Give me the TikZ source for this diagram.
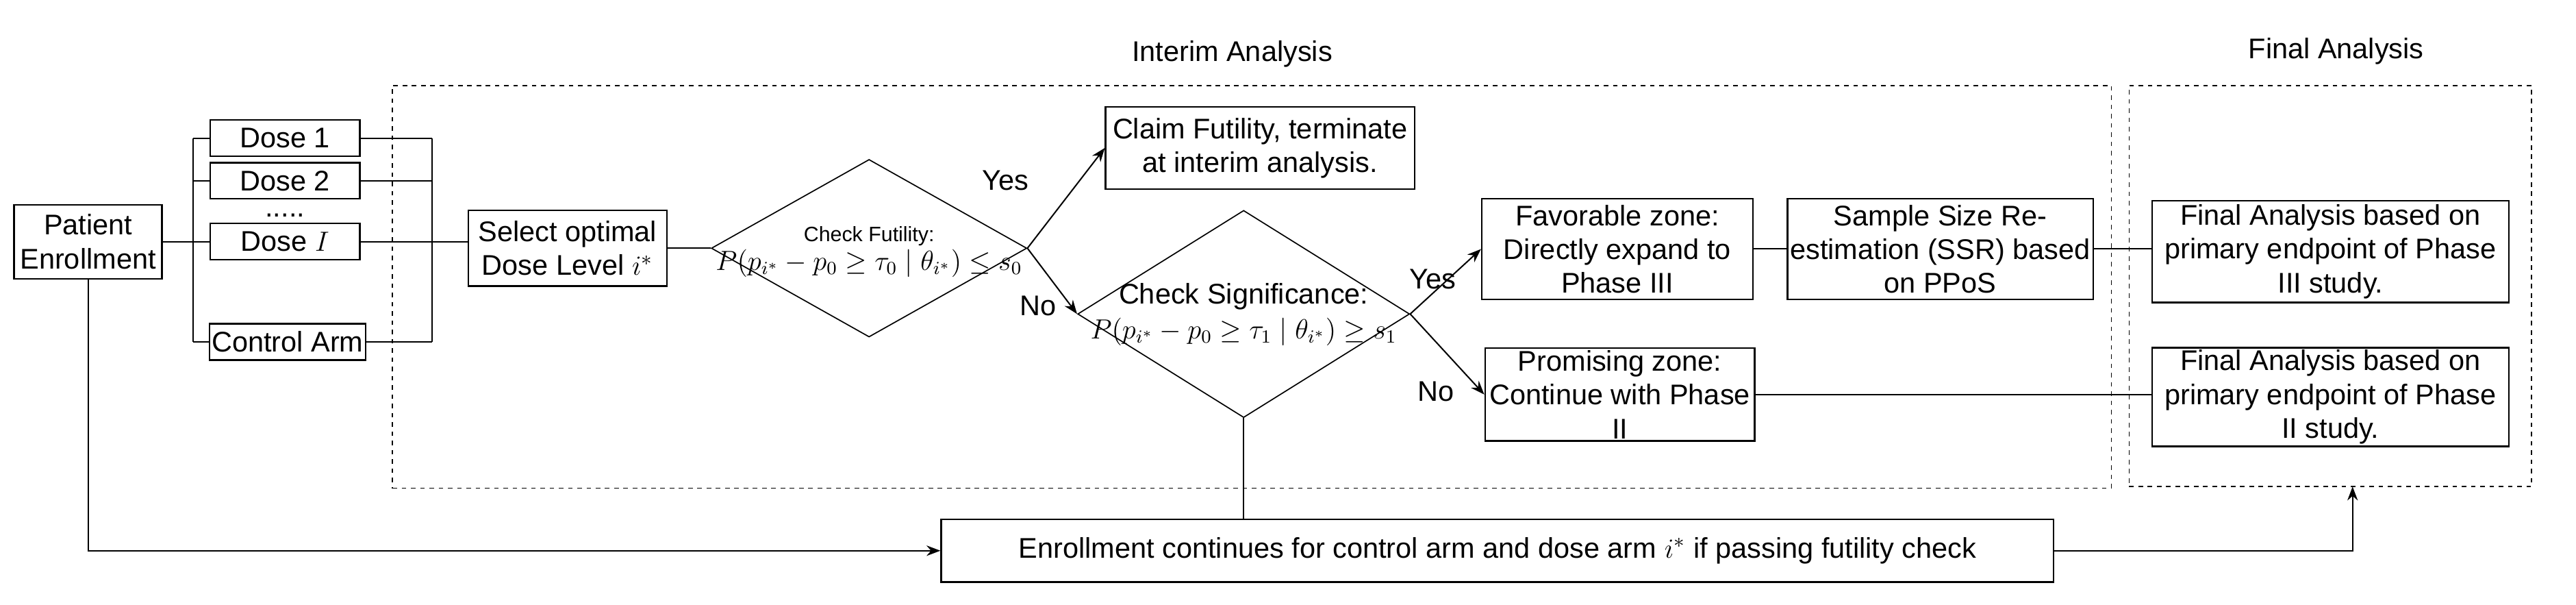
\documentclass[tikz,border=0pt]{standalone}
\usepackage{fontspec}
\setmainfont{Liberation Sans}
\usepackage{tikz}
\usetikzlibrary{arrows.meta,positioning,shapes.geometric}

\tikzset{
  every node/.style={font=\fontsize{12.3}{14.6}\selectfont},
  box/.style={draw, line width=0.7pt, align=center, inner sep=1pt},
  decision/.style={draw, diamond, line width=0.5pt, inner sep=0pt},
  zone/.style={draw, line width=0.5pt, dash pattern=on 2pt off 2pt, inner sep=0pt},
  rule/.style={anchor=base, inner sep=0pt, font=\fontsize{11.6}{14}\selectfont},
  link/.style={line width=0.6pt},
  flow/.style={line width=0.6pt, -{Stealth[length=6pt,width=4.5pt]}},
}

\begin{document}
\begin{tikzpicture}[x=0.025cm, y=-0.025cm]
\useasboundingbox (0,0) rectangle (1568,368);

% stage frames
\node[zone, minimum width=26.15cm, minimum height=6.125cm] (interim) at (762,174.5) {};
\node[zone, minimum width=6.125cm, minimum height=6.1cm] (final) at (1418.5,174) {};
\node (interimtitle) at (750,33) {Interim Analysis};
\node (finaltitle) at (1422,31) {Final Analysis};

% enrollment and arms
\node[box, minimum width=2.25cm, minimum height=1.125cm] (patient) at (53.6,147) {Patient\\Enrollment};
\node[box, minimum width=2.275cm, minimum height=0.55cm] (dose1) at (173.5,84) {Dose 1};
\node[box, minimum width=2.275cm, minimum height=0.55cm] (dose2) at (173.5,110) {Dose 2};
\node[inner sep=0pt, anchor=base] (dots) at (173.5,132) {.....};
\node[box, minimum width=2.275cm, minimum height=0.55cm] (doseI) at (173.5,147) {Dose $I$};
\node[box, minimum width=2.35cm, minimum height=0.55cm] (control) at (175,208) {Control Arm};
\coordinate (split) at (117.6,147);
\coordinate (merge) at (263,147);

\node[box, minimum width=3.025cm, minimum height=1.15cm] (select) at (345.5,151) {Select optimal\\Dose Level $i^*$};

% futility check
\node[decision, minimum width=4.8cm, minimum height=2.7cm] (fut) at (529,151) {};
\node[anchor=base, inner sep=0pt, font=\fontsize{9}{11}\selectfont] (futhead) at (529,147) {Check Futility:};
\node[rule] (futrule) at (529,164.5) {$P(p_{i^*}-p_0\geq\tau_0\mid\theta_{i^*})\leq s_0$};
\node[box, minimum width=4.7cm, minimum height=1.25cm] (claim) at (767,90) {Claim Futility, terminate\\at interim analysis.};

% significance check
\node[decision, minimum width=5.05cm, minimum height=3.15cm] (sig) at (757,191) {};
\node[anchor=base, inner sep=0pt] (sighead) at (757,185) {Check Significance:};
\node[rule] (sigrule) at (757,206) {$P(p_{i^*}-p_0\geq\tau_1\mid\theta_{i^*})\geq s_1$};

\node[box, minimum width=4.125cm, minimum height=1.525cm] (fav) at (984.5,151.5) {Favorable zone:\\Directly expand to\\Phase III};
\node[box, minimum width=4.65cm, minimum height=1.525cm] (ssr) at (1181,151.5) {Sample Size Re-\\estimation (SSR) based\\on PPoS};
\node[box, minimum width=4.1cm, minimum height=1.4cm] (prom) at (986,240) {Promising zone:\\Continue with Phase\\II};

% final analysis
\node[box, minimum width=5.425cm, minimum height=1.55cm] (fin3) at (1418.5,153) {Final Analysis based on\\primary endpoint of Phase\\III study.};
\node[box, minimum width=5.425cm, minimum height=1.425cm] (fin2) at (1418.5,241.5) {Final Analysis based on\\primary endpoint of Phase\\II study.};

\node[box, minimum width=16.925cm, minimum height=0.95cm] (enroll) at (911.5,335) {Enrollment continues for control arm and dose arm $i^*$ if passing futility check};
\coordinate (finentry) at (1432,296);

% branch labels
\node (yes1) at (612,110) {Yes};
\node (no1) at (632,186) {No};
\node (yes2) at (872,170) {Yes};
\node (no2) at (874,238) {No};

% connectors
\draw[link] (patient.east) -- (split);
\draw[link] (split |- dose1) -- (split |- control);
\foreach \n in {dose1,dose2,doseI,control}
  \draw[link] (split |- \n) -- (\n.west);
\foreach \n in {dose1,dose2,control}
  \draw[link] (\n.east) -- (merge |- \n);
\draw[link] (merge |- dose1) -- (merge |- control);
\draw[link] (doseI.east) -- (doseI.east -| select.west);
\draw[link] (select.east) -- (fut.west);

\draw[flow] (fut.east) -- (claim.west);
\draw[flow] (fut.east) -- (sig.west);
\draw[flow] (sig.east) -- (fav.west);
\draw[flow] (sig.east) -- (prom.west);
\draw[link] (fav.east) -- (ssr.west);
\draw[link] (ssr.east) -- (ssr.east -| fin3.west);
\draw[link] (prom.east) -- (prom.east -| fin2.west);

\draw[link] (sig.south) -- (sig.south |- enroll.north);
\draw[flow] (patient.south) |- (enroll.west);
\draw[flow] (enroll.east) -| (finentry);
\end{tikzpicture}
\end{document}
